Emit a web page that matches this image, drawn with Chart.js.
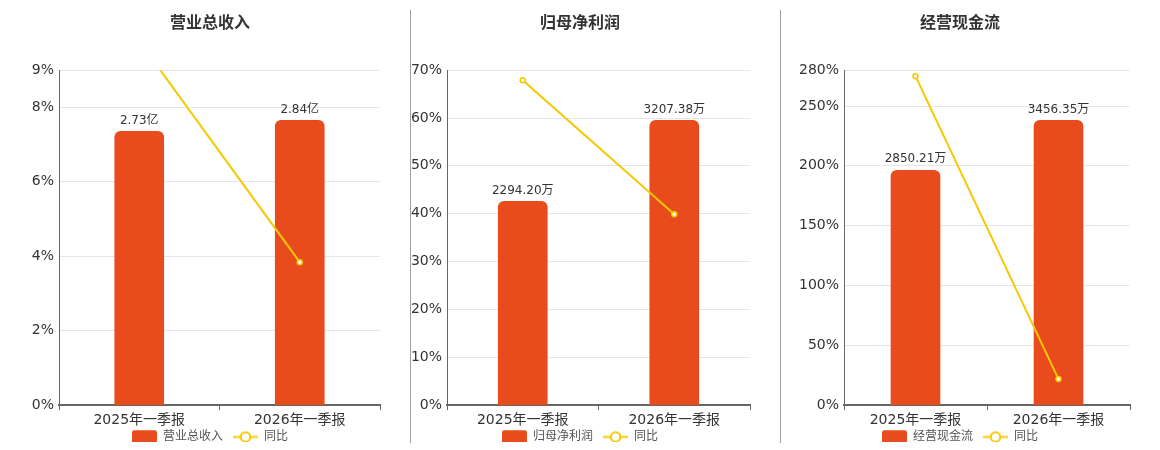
<!DOCTYPE html>
<html lang="zh">
<head>
<meta charset="utf-8">
<title>营业总收入 / 归母净利润 / 经营现金流</title>
<script src="https://cdn.jsdelivr.net/npm/chart.js@4.4.1/dist/chart.umd.min.js"></script>
<style>
  body { margin: 0; background: #fff; }
  #wrap { position: relative; width: 1160px; height: 450px; }
  canvas { position: absolute; top: 0; }
  .divider { position: absolute; top: 10px; width: 1px; height: 433px; background: #a0a0a0; }
</style>
</head>
<body>
<div id="wrap">
  <canvas id="revenueChart" width="410" height="450" style="left:0"></canvas>
  <canvas id="profitChart" width="370" height="450" style="left:410px"></canvas>
  <canvas id="cashChart" width="380" height="450" style="left:780px"></canvas>
  <div class="divider" style="left:410px"></div>
  <div class="divider" style="left:780px"></div>
</div>
<script>
// data
const categories = ['2025年一季报', '2026年一季报'];
const titles = ['营业总收入', '归母净利润', '经营现金流'];
const units = ['亿', '万', '万'];
const revenueValues = [2.73, 2.84];
const profitValues = [2294.20, 3207.38];
const cashValues = [2850.21, 3456.35];
const revenueYoY = [9.78, 3.84];
const profitYoY = [67.9, 39.9];
const cashYoY = [275.0, 21.7];
const yoyMax = [9, 70, 280];
const yoyStep = [2, 10, 50];
const yoyLabel = '同比';

const barColor = '#e84c1d';
const lineColor = '#f5c800';
const fontFamily = '"DejaVu Sans", "Noto Sans CJK SC", sans-serif';

Chart.defaults.font.family = fontFamily;
Chart.defaults.color = '#333';

function makeBarIcon() {
  let c = document.createElement('canvas');
  c.width = 25;
  c.height = 15;
  let g = c.getContext('2d');
  g.fillStyle = barColor;
  g.beginPath();
  g.roundRect(0, 0.5, 25, 14, 3);
  g.fill();
  return c;
}

function makeLineIcon() {
  let c = document.createElement('canvas');
  c.width = 25;
  c.height = 15;
  let g = c.getContext('2d');
  g.strokeStyle = lineColor;
  g.lineWidth = 2;
  g.beginPath();
  g.moveTo(0, 7.5);
  g.lineTo(25, 7.5);
  g.stroke();
  g.beginPath();
  g.arc(12.5, 7.5, 4.8, 0, Math.PI * 2);
  g.fillStyle = '#fff';
  g.fill();
  g.stroke();
  return c;
}

const barIcon = makeBarIcon();
const lineIcon = makeLineIcon();

// value text above each bar
const barValueLabels = {
  id: 'barValueLabels',
  afterDatasetsDraw(chart, args, opts) {
    let ctx = chart.ctx;
    let meta = chart.getDatasetMeta(0);
    let values = chart.data.datasets[0].data;
    ctx.save();
    ctx.font = '12px ' + fontFamily;
    ctx.fillStyle = '#333';
    ctx.textAlign = 'center';
    ctx.textBaseline = 'middle';
    meta.data.forEach((bar, i) => {
      ctx.fillText(values[i].toFixed(2) + opts.unit, bar.x, bar.y - 11);
    });
    ctx.restore();
  }
};

// short legend strip, pulled up under the axis labels, title + legend nudged sideways
const boxTweaks = {
  id: 'boxTweaks',
  afterInit(chart) {
    let legend = chart.legend;
    let fit = legend.fit;
    legend.fit = function () {
      fit.call(this);
      this.height = 21;
    };
  },
  afterLayout(chart, args, opts) {
    let legend = chart.legend;
    let title = chart.titleBlock;
    legend.top -= 8;
    legend.bottom -= 8;
    legend.left += opts.shift;
    legend.right += opts.shift;
    title.left += opts.shift;
    title.right += opts.shift;
    legend.adjustHitBoxes();
  }
};

function createPanel(canvasId, idx, values, yoy, axisWidth, shift) {
  let ctx = document.getElementById(canvasId).getContext('2d');
  new Chart(ctx, {
    type: 'bar',
    data: {
      labels: categories,
      datasets: [{
        type: 'bar',
        label: titles[idx],
        data: values,
        yAxisID: 'y1',
        backgroundColor: barColor,
        borderRadius: { topLeft: 6, topRight: 6 },
        borderSkipped: 'bottom',
        barThickness: 49,
        order: 2
      }, {
        type: 'line',
        label: yoyLabel,
        data: yoy,
        yAxisID: 'y',
        borderColor: lineColor,
        borderWidth: 2,
        pointRadius: 2.5,
        pointBorderWidth: 1.5,
        pointBackgroundColor: '#fff',
        pointBorderColor: lineColor,
        tension: 0,
        order: 1
      }]
    },
    options: {
      responsive: false,
      animation: false,
      layout: { padding: { left: 0, right: 30, top: 0, bottom: 0 } },
      scales: {
        x: {
          grid: { display: true, drawOnChartArea: false, drawTicks: true, tickLength: 5, color: '#666' },
          border: { display: true, color: '#666', width: 2 },
          ticks: { font: { size: 14 }, color: '#333', padding: 2 },
          afterFit(scale) { scale.height = 24; }
        },
        y: {
          position: 'left',
          min: 0,
          max: yoyMax[idx],
          ticks: {
            stepSize: yoyStep[idx],
            font: { size: 14 },
            color: '#333',
            padding: 5,
            callback: v => v + '%'
          },
          grid: { color: '#e3e6ef', drawTicks: false },
          border: { display: true, color: '#666', width: 1 },
          afterFit(scale) { scale.width = axisWidth; }
        },
        y1: {
          display: false,
          min: 0,
          max: Math.max(...values) / 0.85
        }
      },
      plugins: {
        title: {
          display: true,
          text: titles[idx],
          color: '#333',
          font: { size: 16, weight: 'bold' },
          padding: { top: 14, bottom: 37 }
        },
        legend: {
          position: 'bottom',
          labels: {
            usePointStyle: true,
            pointStyleWidth: 25,
            padding: 10,
            color: '#555',
            font: { size: 12 },
            generateLabels: chart => [
              { text: titles[idx], pointStyle: barIcon, datasetIndex: 0, fontColor: '#555', lineWidth: 0 },
              { text: yoyLabel, pointStyle: lineIcon, datasetIndex: 1, fontColor: '#555', lineWidth: 0 }
            ]
          }
        },
        tooltip: { enabled: false },
        barValueLabels: { unit: units[idx] },
        boxTweaks: { shift: shift }
      }
    },
    plugins: [barValueLabels, boxTweaks]
  });
}

document.addEventListener('DOMContentLoaded', () => {
  createPanel('revenueChart', 0, revenueValues, revenueYoY, 59, 20);
  createPanel('profitChart', 1, profitValues, profitYoY, 37, 0);
  createPanel('cashChart', 2, cashValues, cashYoY, 64, 5);
});
</script>
</body>
</html>
